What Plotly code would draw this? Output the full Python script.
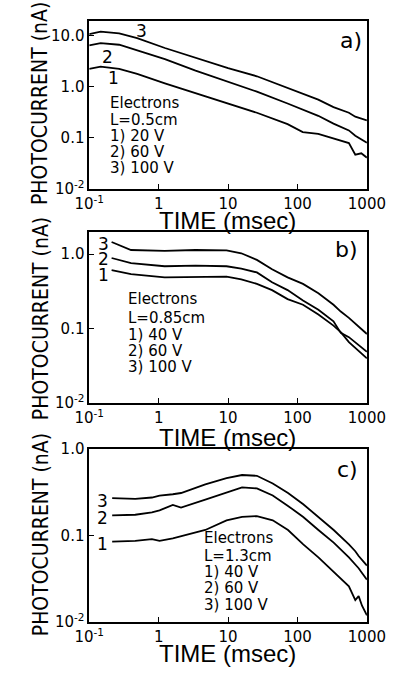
import plotly.graph_objects as go

W, H = 407, 675

# ---- data (time in msec, photocurrent in nA) ----
a_t = [0.1, 0.146, 0.27, 0.49, 1.23, 3.4, 10, 26, 72, 119, 199, 330, 550, 680, 830, 1000]
a_v1 = [2.24, 2.47, 2.24, 1.78, 1.16, 0.75, 0.47, 0.31, 0.186, 0.13, 0.12, 0.098, 0.079, 0.047, 0.05, 0.041]
a_v2 = [6.45, 7.1, 6.6, 5.1, 3.45, 2.07, 1.24, 0.8, 0.47, 0.36, 0.27, 0.19, 0.14, 0.11, 0.095, 0.08]
a_v3 = [10.6, 11.9, 11.0, 8.9, 5.7, 3.7, 2.3, 1.6, 0.93, 0.72, 0.56, 0.4, 0.31, 0.26, 0.24, 0.22]

b_t = [0.21, 0.4, 1.22, 3.4, 9.5, 15.5, 26, 43, 72, 120, 200, 330, 420, 550, 1000]
b_v1 = [0.61, 0.54, 0.49, 0.5, 0.5, 0.46, 0.4, 0.33, 0.25, 0.21, 0.155, 0.11, 0.09, 0.066, 0.04]
b_v2 = [0.89, 0.76, 0.69, 0.705, 0.69, 0.64, 0.57, 0.42, 0.33, 0.24, 0.18, 0.126, 0.088, 0.077, 0.049]
b_v3 = [1.46, 1.14, 1.11, 1.14, 1.13, 1.03, 0.84, 0.63, 0.49, 0.4, 0.3, 0.21, 0.17, 0.14, 0.085]

c_t = [0.214, 0.46, 0.8, 1.03, 1.6, 2.1, 4.7, 9.5, 15.9, 26, 44, 73, 121, 200, 332, 550, 680, 760, 850, 1000]
c_v1 = [0.085, 0.087, 0.091, 0.087, 0.093, 0.098, 0.116, 0.15, 0.164, 0.168, 0.15, 0.116, 0.079, 0.056, 0.038, 0.026, 0.018, 0.02, 0.0155, 0.012]
c_v2 = [0.171, 0.174, 0.185, 0.195, 0.226, 0.21, 0.26, 0.31, 0.36, 0.35, 0.29, 0.22, 0.164, 0.116, 0.083, 0.056, 0.047, 0.042, 0.037, 0.031]
c_v3 = [0.27, 0.265, 0.275, 0.29, 0.3, 0.31, 0.39, 0.46, 0.5, 0.49, 0.4, 0.31, 0.23, 0.164, 0.116, 0.079, 0.066, 0.058, 0.052, 0.045]

x_tickvals = [0.1, 1, 10, 100, 1000]
x_ticktext = ["10<sup>-1</sup>", "1", "10", "100", "1000"]
y_tickvals_a = [0.01, 0.1, 1, 10]
y_ticktext_a = ["10<sup>-2</sup>", "0.1", "1.0", "10.0"]
y_tickvals_bc = [0.01, 0.1, 1]
y_ticktext_bc = ["10<sup>-2</sup>", "0.1", "1.0"]

panels = [
    dict(t=a_t, vs=[a_v1, a_v2, a_v3], top=12, bot=185, yr=[-2, 1.29],
         yt=(y_tickvals_a, y_ticktext_a), letter="a)", lpos=(367, 32),
         nums=[(108, 71), (101, 49), (138, 23)],
         text=["Electrons", "L=0.5cm", "1) 20 V", "2) 60 V", "3) 100 V"],
         tx=102, ty=[97, 114, 130, 147, 163], title_y=217, ytitle_c=97),
    dict(t=b_t, vs=[b_v1, b_v2, b_v3], top=229, bot=405, yr=[-2, 0.3],
         yt=(y_tickvals_bc, y_ticktext_bc), letter="b)", lpos=(362, 247),
         nums=[(97, 273), (97, 257), (97, 241)],
         text=["Electrons", "L=0.85cm", "1) 40 V", "2) 60 V", "3) 100 V"],
         tx=121, ty=[298, 317, 335, 351, 368], title_y=440, ytitle_c=318),
    dict(t=c_t, vs=[c_v1, c_v2, c_v3], top=452, bot=630, yr=[-2, 0],
         yt=(y_tickvals_bc, y_ticktext_bc), letter="c)", lpos=(363, 473),
         nums=[(95, 550), (95, 523), (95, 505)],
         text=["Electrons", "L=1.3cm", "1) 40 V", "2) 60 V", "3) 100 V"],
         tx=204, ty=[544, 562, 578, 595, 612], title_y=662, ytitle_c=540),
]

FONT = "Liberation Sans, Arial, sans-serif"
NARROW = "Liberation Sans Narrow, DejaVu Sans Condensed, Liberation Sans, sans-serif"
WIDE = "DejaVu Sans, Verdana, sans-serif"

fig = go.Figure()
ann = []
layout = {}
xl, xr = 81 / W, 384 / W

def px(x):
    return x / W

def py(y):
    return 1 - y / H

for i, p in enumerate(panels):
    n = "" if i == 0 else str(i + 1)
    for v in p["vs"]:
        fig.add_trace(go.Scatter(x=p["t"], y=v, mode="lines",
                                 line=dict(color="black", width=1.8, shape="linear"),
                                 xaxis="x" + n, yaxis="y" + n, showlegend=False,
                                 hoverinfo="skip"))
    layout["xaxis" + n] = dict(type="log", range=[-1, 3], domain=[xl, xr],
                               anchor="y" + n, tickvals=x_tickvals, ticktext=x_ticktext,
                               ticks="inside", ticklen=5, tickcolor="black",
                               showline=True, linecolor="black", linewidth=1.5,
                               mirror=True, showgrid=False, zeroline=False,
                               tickfont=dict(family=WIDE, size=15, color="black"))
    layout["yaxis" + n] = dict(type="log", range=p["yr"],
                               domain=[py(p["bot"]), py(p["top"])],
                               anchor="x" + n, tickvals=p["yt"][0], ticktext=p["yt"][1],
                               ticks="inside", ticklen=5, tickcolor="black",
                               showline=True, linecolor="black", linewidth=1.5,
                               mirror=True, showgrid=False, zeroline=False,
                               tickfont=dict(family=WIDE, size=15, color="black"))
    ann.append(dict(x=px(p["lpos"][0]), y=py(p["lpos"][1]), xref="paper", yref="paper",
                    text=p["letter"], showarrow=False, xanchor="center", yanchor="middle",
                    font=dict(family=WIDE, size=22, color="black")))
    for k, (nx, ny) in enumerate(p["nums"]):
        ann.append(dict(x=px(nx), y=py(ny), xref="paper", yref="paper",
                        text=str(k + 1), showarrow=False, xanchor="center", yanchor="middle",
                        font=dict(family=WIDE, size=17, color="black")))
    for line, yy in zip(p["text"], p["ty"]):
        ann.append(dict(x=px(p["tx"]), y=py(yy), xref="paper", yref="paper",
                        text=line, showarrow=False, xanchor="left", yanchor="middle",
                        font=dict(family=WIDE, size=15, color="black")))
    ann.append(dict(x=px(232), y=py(p["title_y"]), xref="paper", yref="paper",
                    text="TIME (msec)", showarrow=False, xanchor="center", yanchor="middle",
                    font=dict(family=FONT, size=24, color="black")))
    ann.append(dict(x=px(28), y=py(p["ytitle_c"]), xref="paper", yref="paper",
                    text="PHOTOCURRENT (nA)", showarrow=False, textangle=-90,
                    xanchor="center", yanchor="middle",
                    font=dict(family=NARROW, size=21, color="black")))

fig.update_layout(width=W, height=H, margin=dict(l=0, r=0, t=0, b=0),
                  paper_bgcolor="white", plot_bgcolor="white",
                  annotations=ann, **layout)

fig.write_html("out.html")
